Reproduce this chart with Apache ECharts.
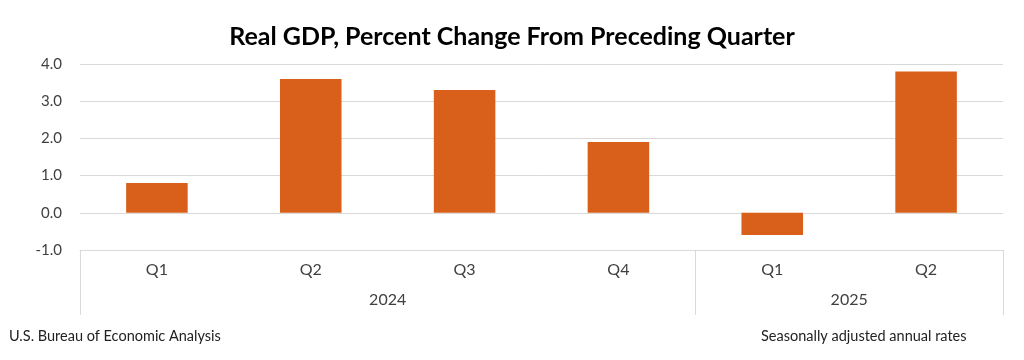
<!DOCTYPE html>
<html><head><meta charset="utf-8">
<script src="https://cdn.jsdelivr.net/npm/echarts@6/dist/echarts.min.js"></script>
<style>html,body{margin:0;padding:0;background:#fff}#c{width:1024px;height:360px}</style>
</head><body><div id="c"></div>
<script>
const quarters = ['Q1','Q2','Q3','Q4','Q1','Q2'];
const values = [0.8, 3.6, 3.3, 1.9, -0.6, 3.8];
const years = ['2024','2025'];
const quartersPerYear = [4, 2];
const yTicks = [-1, 0, 1, 2, 3, 4];

const font = 'Lato, "Open Sans", sans-serif';
// year boundaries and centers (in category units)
const bounds = [0]; const centers = [];
quartersPerYear.forEach((n,i)=>{ const s = bounds[bounds.length-1]; bounds.push(s+n); centers.push(s+n/2); });

const chart = echarts.init(document.getElementById('c'));
chart.setOption({
  animation: false,
  title: [
    {text: 'Real GDP, Percent Change From Preceding Quarter', left: 'center', top: 19,
     textStyle: {fontFamily: font, fontWeight: 'bold', fontSize: 25, color: '#000'}},
    {text: 'U.S. Bureau of Economic Analysis', left: 4, top: 324,
     textStyle: {fontFamily: font, fontWeight: 'normal', fontSize: 14.5, color: '#222'}},
    {text: 'Seasonally adjusted annual rates', left: 756, top: 324,
     textStyle: {fontFamily: font, fontWeight: 'normal', fontSize: 14.5, color: '#222'}}
  ],
  grid: {left: 80, right: 21, top: 64, bottom: 110},
  xAxis: [
    {type: 'category', data: quarters, position: 'bottom',
     axisLine: {onZero: false, lineStyle: {color: '#d9d9d9', width: 1}},
     axisTick: {show: false},
     axisLabel: {fontFamily: font, fontSize: 16, color: '#404040', margin: 12}},
    {type: 'value', min: 0, max: quarters.length, position: 'bottom',
     axisLine: {show: false, onZero: false}, splitLine: {show: false},
     axisTick: {show: true, length: 65, lineStyle: {color: '#d9d9d9'}, customValues: bounds},
     axisLabel: {customValues: centers, fontFamily: font, fontSize: 16, color: '#404040', margin: 42,
       formatter: v => { const i = centers.indexOf(v); return i >= 0 ? years[i] : ''; }}}
  ],
  yAxis: {type: 'value', min: yTicks[0], max: yTicks[yTicks.length-1], interval: 1,
    axisLine: {show: false}, axisTick: {show: false},
    splitLine: {lineStyle: {color: '#d9d9d9', width: 1}},
    axisLabel: {fontFamily: font, fontSize: 15, color: '#404040', margin: 18,
      formatter: v => v.toFixed(1)}},
  series: [{type: 'bar', data: values, xAxisIndex: 0, barWidth: '40%',
    itemStyle: {color: '#d9601a'}}]
});
</script></body></html>
